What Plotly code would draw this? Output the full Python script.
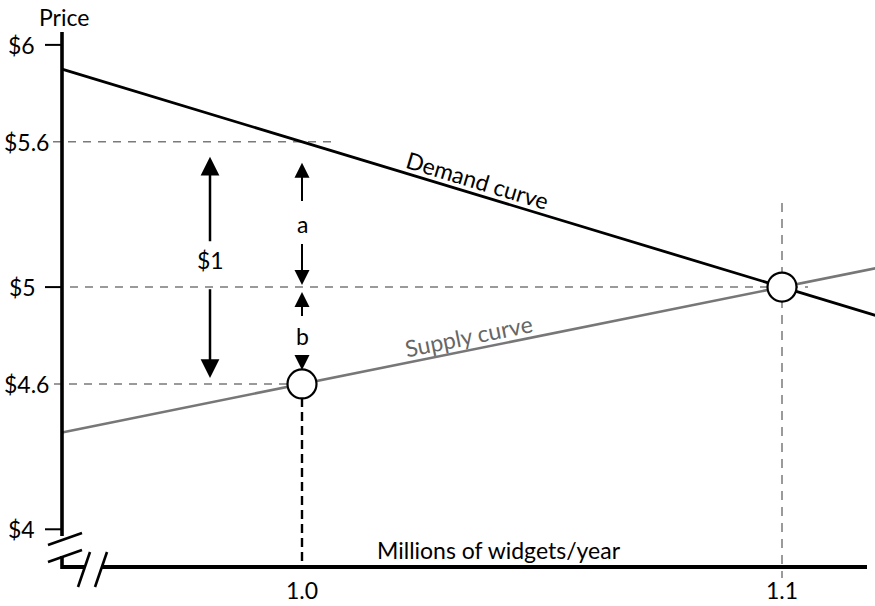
import numpy as np
import plotly.graph_objects as go

# ---------------- data ----------------
demand_q = [0.95, 1.0, 1.1, 1.12]
demand_p = [5.9, 5.6, 5.0, 4.88]
supply_q = [0.95, 1.0, 1.1, 1.12]
supply_p = [4.4, 4.6, 5.0, 5.08]
eq_q = [1.0, 1.1]
eq_p = [4.6, 5.0]
price_ticks = [6, 5.6, 5, 4.6, 4]
price_labels = ["$6", "$5.6", "$5", "$4.6", "$4"]
qty_ticks = [1.0, 1.1]
qty_labels = ["1.0", "1.1"]
gap_top, gap_mid, gap_bottom = 5.6, 5.0, 4.6   # $1 = a + b

# ---------------- canvas mapping (style) ----------------
W, H = 875, 606
PX_PER_Q = 4800.0
PX_PER_P = 242.2
REF_Q_PX = 302.0     # pixel column of q = 1.0
REF_P, REF_P_PX = 5.04, 277.4


def qx(px):
    return 1.0 + (px - REF_Q_PX) / PX_PER_Q


def py(pyy):
    return REF_P - (pyy - REF_P_PX) / PX_PER_P


def dq(px):
    return px / PX_PER_Q


def dp(pxy):
    return pxy / PX_PER_P


X_RANGE = [qx(0), qx(W)]
Y_RANGE = [py(H), py(0)]

Q0 = 0.95          # y-axis position
P0 = py(567)       # x-axis position
FONT = "Lato"
FS = 23
GRAY = "#7a7a7a"

fig = go.Figure()

# curves
fig.add_trace(go.Scatter(x=demand_q, y=demand_p, mode="lines",
                         line=dict(color="black", width=2.8), hoverinfo="skip"))
fig.add_trace(go.Scatter(x=supply_q, y=supply_p, mode="lines",
                         line=dict(color="#777777", width=2.6), hoverinfo="skip"))
# equilibrium circles
fig.add_trace(go.Scatter(x=eq_q, y=eq_p, mode="markers",
                         marker=dict(size=29, color="white",
                                     line=dict(color="black", width=2.2)),
                         hoverinfo="skip"))

shapes = []


def line(x0, y0, x1, y1, color="black", width=2, dash=None, layer="above"):
    d = dict(type="line", x0=x0, y0=y0, x1=x1, y1=y1, xref="x", yref="y",
             layer=layer, line=dict(color=color, width=width))
    if dash:
        d["line"]["dash"] = dash
    shapes.append(d)


# guide lines (dashed)
line(Q0 - dq(9), price_ticks[1], eq_q[0] + dq(33), price_ticks[1],
     color=GRAY, width=1.5, dash="8px,7px", layer="below")
line(Q0 + dq(8), price_ticks[2], eq_q[1] + dq(26), price_ticks[2],
     color=GRAY, width=1.5, dash="8px,7px", layer="below")
line(Q0 - dq(8), price_ticks[3], eq_q[0], price_ticks[3],
     color=GRAY, width=1.5, dash="8px,7px", layer="below")
line(eq_q[1], eq_p[1] + dp(84), eq_q[1], P0 - dp(11),
     color=GRAY, width=1.5, dash="9px,7px", layer="below")
line(eq_q[0], eq_p[0], eq_q[0], P0,
     color="black", width=2.4, dash="9px,5px", layer="below")

# tick stubs for $6, $5, $4
for p in (price_ticks[0], price_ticks[2], price_ticks[4]):
    line(Q0 - dq(17), p, Q0, p, width=2)

# axes with break marks
line(Q0, py(32), Q0, py(536), width=3.6)
line(Q0, py(556), Q0, P0 + dp(1.8), width=3.6)
line(Q0 - dq(1.8), P0, qx(85), P0, width=4)
line(qx(102), P0, qx(867), P0, width=4)
line(qx(48), py(545), qx(82), py(533), width=2.6)
line(qx(48), py(562), qx(82), py(550), width=2.6)
line(qx(78), py(587), qx(90), py(552), width=2.6)
line(qx(95), py(587), qx(107), py(552), width=2.6)

annotations = []


def text(x, y, s, size=FS, color="black", xanchor="center", yanchor="middle",
         xshift=0, yshift=0, angle=0):
    annotations.append(dict(x=x, y=y, xref="x", yref="y", text=s, showarrow=False,
                            font=dict(family=FONT, size=size, color=color),
                            xanchor=xanchor, yanchor=yanchor,
                            xshift=xshift, yshift=yshift, textangle=angle))


def arrow(x, tip, tail, standoff, startstandoff, width, size):
    annotations.append(dict(x=x, y=tip, ax=x, ay=tail, xref="x", yref="y",
                            axref="x", ayref="y", text="", showarrow=True,
                            arrowhead=2, arrowwidth=width, arrowsize=size,
                            arrowcolor="black", standoff=standoff,
                            startstandoff=startstandoff))


# price tick labels
shifts = [-25, -11, -24, -11, -25]
for p, lab, s in zip(price_ticks, price_labels, shifts):
    text(Q0, p, lab, xanchor="right", xshift=s)
# quantity tick labels
for q, lab in zip(qty_ticks, qty_labels):
    text(q, P0, lab, yshift=-23)

# axis titles
text(Q0, py(17), "Price", xshift=2)
text(qx(499), py(550), "Millions of widgets/year")

# curve labels
q_d = 1.0365
text(q_d, float(np.interp(q_d, demand_q, demand_p)), "Demand curve",
     yshift=15, angle=16.8)
q_s = 1.0346
text(q_s, float(np.interp(q_s, supply_q, supply_p)), "Supply curve",
     yshift=14.5, angle=-11.4, color="#666666")

# $1 double arrow
q_one = qx(210)
mid_one = (gap_top + gap_bottom) / 2
arrow(q_one, gap_top, mid_one, 15, 20, 2.5, 1.5)
arrow(q_one, gap_bottom, mid_one, 6, 25, 2.5, 1.5)
text(q_one, mid_one, "$1", yshift=3)

# a double arrow
mid_a = (gap_top + gap_mid) / 2
arrow(eq_q[0], gap_top, mid_a, 21, 12, 2, 1.5)
arrow(eq_q[0], gap_mid, mid_a, 2, 28, 2, 1.5)
text(eq_q[0], mid_a, "a", yshift=-10)

# b double arrow
mid_b = (gap_mid + gap_bottom) / 2
arrow(eq_q[0], gap_mid, mid_b, 5, 18, 2, 1.5)
arrow(eq_q[0], gap_bottom, mid_b, 14, 21, 2, 1.5)
text(eq_q[0], mid_b, "b")

fig.update_layout(
    width=W, height=H,
    margin=dict(l=0, r=0, t=0, b=0),
    paper_bgcolor="white", plot_bgcolor="white",
    showlegend=False,
    xaxis=dict(range=X_RANGE, visible=False, fixedrange=True),
    yaxis=dict(range=Y_RANGE, visible=False, fixedrange=True),
    shapes=shapes,
    annotations=annotations,
    font=dict(family=FONT, size=FS),
)

fig.write_html(
    "out.html",
    config={"displayModeBar": False},
    post_script="document.body.style.margin='0';document.body.style.padding='0';",
)
